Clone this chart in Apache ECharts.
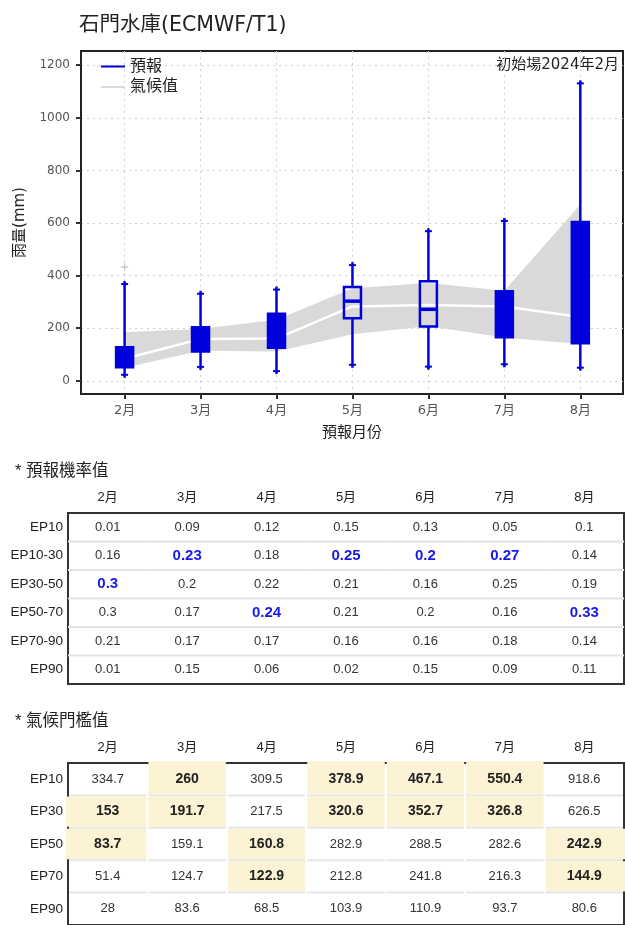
<!DOCTYPE html>
<html>
<head>
<meta charset="utf-8">
<title>石門水庫(ECMWF/T1)</title>
<script src="https://cdn.jsdelivr.net/npm/echarts@6/dist/echarts.min.js"></script>
<style>
html, body { margin: 0; padding: 0; background: #fff; }
#main { width: 625px; height: 925px; }
</style>
</head>
<body>
<div id="main"></div>
<script>
// ---- forecast boxes (mm) ----
var months = [2, 3, 4, 5, 6, 7, 8];
var monthNames = ['2月', '3月', '4月', '5月', '6月', '7月', '8月'];
var whiskerLow = [23, 53, 37, 61, 54, 63, 50];
var boxLow = [52, 112, 126, 238, 207, 166, 143];
var boxMid = [90, 160, 190, 303, 272, 250, 330];
var boxHigh = [128, 204, 255, 357, 379, 341, 604];
var whiskerHigh = [368, 331, 347, 440, 569, 608, 1131];
var boxFilled = [1, 1, 1, 0, 0, 1, 1];
var outlierMonth = [2];
var outlierValue = [433];
var yTicks = [0, 200, 400, 600, 800, 1000, 1200];

// ---- climatology band ----
var bandLow = [50, 114, 112, 177, 208, 165, 140];
var bandHigh = [185, 197, 232, 352, 372, 343, 670];

// ---- 預報機率值 ----
var probRows = ['EP10', 'EP10-30', 'EP30-50', 'EP50-70', 'EP70-90', 'EP90'];
var probEP10 = [0.01, 0.09, 0.12, 0.15, 0.13, 0.05, 0.1];
var probEP10_30 = [0.16, 0.23, 0.18, 0.25, 0.2, 0.27, 0.14];
var probEP30_50 = [0.3, 0.2, 0.22, 0.21, 0.16, 0.25, 0.19];
var probEP50_70 = [0.3, 0.17, 0.24, 0.21, 0.2, 0.16, 0.33];
var probEP70_90 = [0.21, 0.17, 0.17, 0.16, 0.16, 0.18, 0.14];
var probEP90 = [0.01, 0.15, 0.06, 0.02, 0.15, 0.09, 0.11];
var probTopRow = [2, 1, 3, 1, 1, 1, 3]; // bold blue cell of each month

// ---- 氣候門檻值 ----
var climRows = ['EP10', 'EP30', 'EP50', 'EP70', 'EP90'];
var climEP10 = [334.7, 260, 309.5, 378.9, 467.1, 550.4, 918.6];
var climEP30 = [153, 191.7, 217.5, 320.6, 352.7, 326.8, 626.5];
var climEP50 = [83.7, 159.1, 160.8, 282.9, 288.5, 282.6, 242.9];
var climEP70 = [51.4, 124.7, 122.9, 212.8, 241.8, 216.3, 144.9];
var climEP90 = [28, 83.6, 68.5, 103.9, 110.9, 93.7, 80.6];
// [month index, row index] of the yellow cells
var climMarked = [[1, 0], [3, 0], [4, 0], [5, 0],
                  [0, 1], [1, 1], [3, 1], [4, 1], [5, 1],
                  [0, 2], [2, 2], [6, 2],
                  [2, 3], [6, 3]];

var FONT = '"Liberation Sans", "Noto Sans CJK TC", sans-serif';
var PLOT = '"DejaVu Sans", "Noto Sans CJK TC", sans-serif';
var BLUE = '#0000dd';

var probTable = [probEP10, probEP10_30, probEP30_50, probEP50_70, probEP70_90, probEP90];
var climTable = [climEP10, climEP30, climEP50, climEP70, climEP90];

function tableData(rows) {
    var out = [];
    rows.forEach(function (vals, r) {
        vals.forEach(function (v, c) { out.push([c, r, v]); });
    });
    return out;
}

function isMarked(c, r) {
    for (var i = 0; i < climMarked.length; i++) {
        if (climMarked[i][0] === c && climMarked[i][1] === r) return true;
    }
    return false;
}

var boxData = months.map(function (m, i) {
    return [m, whiskerLow[i], boxLow[i], boxMid[i], boxHigh[i], whiskerHigh[i], boxFilled[i]];
});

var chart = echarts.init(document.getElementById('main'));

var option = {
    animation: false,
    backgroundColor: '#fff',
    title: [
        { text: '石門水庫(ECMWF/T1)', left: 79, top: 15, padding: 0,
          textStyle: { fontSize: 20.5, fontWeight: 'normal', color: '#222', fontFamily: PLOT } },
        { text: '* 預報機率值', left: 15, top: 463, padding: 0,
          textStyle: { fontSize: 16.5, fontWeight: 'normal', color: '#222', fontFamily: FONT } },
        { text: '* 氣候門檻值', left: 15, top: 713, padding: 0,
          textStyle: { fontSize: 16.5, fontWeight: 'normal', color: '#222', fontFamily: FONT } }
    ],
    legend: {
        data: ['預報', '氣候值'],
        orient: 'vertical',
        left: 101, top: 58, padding: 0,
        icon: 'rect', itemWidth: 24, itemHeight: 2, itemGap: 3.5,
        selectedMode: false,
        textStyle: { fontSize: 16, color: '#222', lineHeight: 17, fontFamily: PLOT }
    },
    graphic: [
        { type: 'text', right: 6, top: 58,
          style: { text: '初始場2024年2月', fontSize: 15, fill: '#222', fontFamily: PLOT } }
    ],
    grid: [
        { left: 81, top: 51, width: 542, height: 343, show: true,
          borderColor: '#222', borderWidth: 2, backgroundColor: 'transparent' },
        { left: 68, top: 513, width: 556, height: 171, show: true,
          borderColor: '#333', borderWidth: 2, backgroundColor: 'transparent' },
        { left: 68, top: 763, width: 556, height: 166, show: true,
          borderColor: '#333', borderWidth: 2, backgroundColor: 'transparent' }
    ],
    xAxis: [
        {
            gridIndex: 0, type: 'value', min: 1.426, max: 8.562,
            name: '預報月份', nameLocation: 'middle', nameGap: 32,
            nameTextStyle: { fontSize: 15, color: '#222', fontFamily: PLOT },
            axisLine: { show: true, onZero: false, lineStyle: { color: '#222', width: 2 } },
            axisTick: { show: true, customValues: months, length: 5, lineStyle: { color: '#333', width: 2 } },
            axisLabel: { customValues: months, margin: 10, fontSize: 13, color: '#555', fontFamily: PLOT,
                         formatter: function (v) { return v + '月'; } },
            splitLine: { show: true, lineStyle: { color: '#cfcfcf', type: [2, 4] } }
        },
        {
            gridIndex: 1, type: 'category', data: monthNames, position: 'top',
            axisLine: { show: false }, axisTick: { show: false },
            axisLabel: { margin: 9, fontSize: 13, color: '#222', fontFamily: FONT },
            splitLine: { show: false }
        },
        {
            gridIndex: 2, type: 'category', data: monthNames, position: 'top',
            axisLine: { show: false }, axisTick: { show: false },
            axisLabel: { margin: 9, fontSize: 13, color: '#222', fontFamily: FONT },
            splitLine: { show: false }
        }
    ],
    yAxis: [
        {
            gridIndex: 0, type: 'value', min: -50, max: 1254,
            name: '雨量(mm)', nameLocation: 'middle', nameGap: 53, nameRotate: 90,
            nameTextStyle: { fontSize: 15, color: '#222', fontFamily: PLOT },
            axisLine: { show: true, onZero: false, lineStyle: { color: '#222', width: 2 } },
            axisTick: { show: true, customValues: yTicks, length: 5, lineStyle: { color: '#333', width: 2 } },
            axisLabel: { customValues: yTicks, margin: 11, fontSize: 12, color: '#555', fontFamily: PLOT,
                         formatter: function (v) { return String(v); } },
            splitLine: { show: true, lineStyle: { color: '#cfcfcf', type: [2, 4] } }
        },
        {
            gridIndex: 1, type: 'category', data: probRows, inverse: true,
            axisLine: { show: false }, axisTick: { show: false },
            axisLabel: { margin: 5, fontSize: 13.5, color: '#222', fontFamily: FONT },
            splitLine: { show: false }
        },
        {
            gridIndex: 2, type: 'category', data: climRows, inverse: true,
            axisLine: { show: false }, axisTick: { show: false },
            axisLabel: { margin: 5, fontSize: 13.5, color: '#222', fontFamily: FONT },
            splitLine: { show: false }
        }
    ],
    series: [
        {
            // grey climate band
            name: '氣候值', type: 'custom', xAxisIndex: 0, yAxisIndex: 0, z: 1, silent: true,
            itemStyle: { color: '#d9d9d9' },
            data: months.map(function (m, i) { return [m, bandLow[i], bandHigh[i]]; }),
            encode: { x: 0, y: [1, 2] },
            renderItem: function (params, api) {
                if (params.dataIndex !== 0) return;
                var pts = [];
                months.forEach(function (m, i) { pts.push(api.coord([m, bandHigh[i]])); });
                for (var i = months.length - 1; i >= 0; i--) pts.push(api.coord([months[i], bandLow[i]]));
                return { type: 'polygon', shape: { points: pts }, style: { fill: '#d9d9d9' } };
            }
        },
        {
            name: 'EP50', type: 'line', xAxisIndex: 0, yAxisIndex: 0, z: 3, silent: true,
            data: months.map(function (m, i) { return [m, climEP50[i]]; }),
            symbol: 'none',
            lineStyle: { color: '#ffffff', width: 2.5 }
        },
        {
            name: '預報', type: 'custom', xAxisIndex: 0, yAxisIndex: 0, z: 4, silent: true,
            itemStyle: { color: BLUE },
            data: boxData,
            encode: { x: 0, y: [1, 2, 3, 4, 5] },
            renderItem: function (params, api) {
                var x = api.value(0);
                var pLo = api.coord([x, api.value(1)]);
                var pQ1 = api.coord([x, api.value(2)]);
                var pMd = api.coord([x, api.value(3)]);
                var pQ3 = api.coord([x, api.value(4)]);
                var pHi = api.coord([x, api.value(5)]);
                var filled = api.value(6) === 1;
                var cx = pLo[0], hw = 8.5;
                var st = { stroke: BLUE, lineWidth: 2.5 };
                var cap = { stroke: BLUE, lineWidth: 2 };
                var kids = [
                    { type: 'line', shape: { x1: cx, y1: pQ1[1], x2: cx, y2: pLo[1] + 3 }, style: st },
                    { type: 'line', shape: { x1: cx, y1: pQ3[1], x2: cx, y2: pHi[1] - 3 }, style: st },
                    { type: 'line', shape: { x1: cx - 3.5, y1: pLo[1], x2: cx + 3.5, y2: pLo[1] }, style: cap },
                    { type: 'line', shape: { x1: cx - 3.5, y1: pHi[1], x2: cx + 3.5, y2: pHi[1] }, style: cap },
                    { type: 'rect', shape: { x: cx - hw, y: pQ3[1], width: hw * 2, height: pQ1[1] - pQ3[1] },
                      style: { fill: filled ? BLUE : 'none', stroke: BLUE, lineWidth: 2.5 } }
                ];
                if (!filled) {
                    kids.push({ type: 'line', shape: { x1: cx - hw, y1: pMd[1], x2: cx + hw, y2: pMd[1] },
                                style: { stroke: BLUE, lineWidth: 3.5 } });
                }
                return { type: 'group', children: kids };
            }
        },
        {
            name: 'outlier', type: 'scatter', xAxisIndex: 0, yAxisIndex: 0, z: 2, silent: true,
            data: outlierMonth.map(function (m, i) { return [m, outlierValue[i]]; }),
            symbol: 'path://M4,0 L6,0 L6,4 L10,4 L10,6 L6,6 L6,10 L4,10 L4,6 L0,6 L0,4 L4,4 Z',
            symbolSize: 7,
            itemStyle: { color: '#bbbbbb' }
        },
        {
            name: 'prob', type: 'custom', xAxisIndex: 1, yAxisIndex: 1, silent: true,
            data: tableData(probTable),
            renderItem: function (params, api) {
                var col = api.value(0), row = api.value(1);
                var c = api.coord([col, row]);
                var s = api.size([1, 1]);
                var hot = probTopRow[col] === row;
                var kids = [];
                if (row < probRows.length - 1) {
                    kids.push({ type: 'line',
                        shape: { x1: c[0] - s[0] / 2, y1: c[1] + s[1] / 2, x2: c[0] + s[0] / 2, y2: c[1] + s[1] / 2 },
                        style: { stroke: '#e3e3e3', lineWidth: 2 } });
                }
                kids.push({ type: 'text', style: {
                    text: String(api.value(2)), x: c[0], y: c[1], align: 'center', verticalAlign: 'middle',
                    fill: hot ? '#1a1ae6' : '#333', fontSize: hot ? 15 : 13,
                    fontWeight: hot ? 'bold' : 'normal', fontFamily: FONT } });
                return { type: 'group', children: kids };
            }
        },
        {
            name: 'clim', type: 'custom', xAxisIndex: 2, yAxisIndex: 2, silent: true,
            data: tableData(climTable),
            renderItem: function (params, api) {
                var col = api.value(0), row = api.value(1);
                var c = api.coord([col, row]);
                var s = api.size([1, 1]);
                var hot = isMarked(col, row);
                var kids = [];
                if (hot) {
                    var x0 = c[0] - s[0] / 2 + 1, x1 = c[0] + s[0] / 2 - 1;
                    var y0 = c[1] - s[1] / 2 + 1, y1 = c[1] + s[1] / 2 - 1;
                    if (col === 0) x0 -= 3;
                    if (col === 6) x1 += 3;
                    if (row === 0) y0 -= 3;
                    kids.push({ type: 'rect', shape: { x: x0, y: y0, width: x1 - x0, height: y1 - y0 },
                                style: { fill: '#fcf3d4' } });
                }
                if (row < climRows.length - 1) {
                    kids.push({ type: 'line',
                        shape: { x1: c[0] - s[0] / 2 + 1, y1: c[1] + s[1] / 2, x2: c[0] + s[0] / 2 - 1, y2: c[1] + s[1] / 2 },
                        style: { stroke: '#e6e6e6', lineWidth: 2 } });
                }
                kids.push({ type: 'text', style: {
                    text: String(api.value(2)), x: c[0], y: c[1], align: 'center', verticalAlign: 'middle',
                    fill: hot ? '#222' : '#333', fontSize: hot ? 14 : 13,
                    fontWeight: hot ? 'bold' : 'normal', fontFamily: FONT } });
                return { type: 'group', children: kids };
            }
        }
    ]
};

chart.setOption(option);
</script>
</body>
</html>
